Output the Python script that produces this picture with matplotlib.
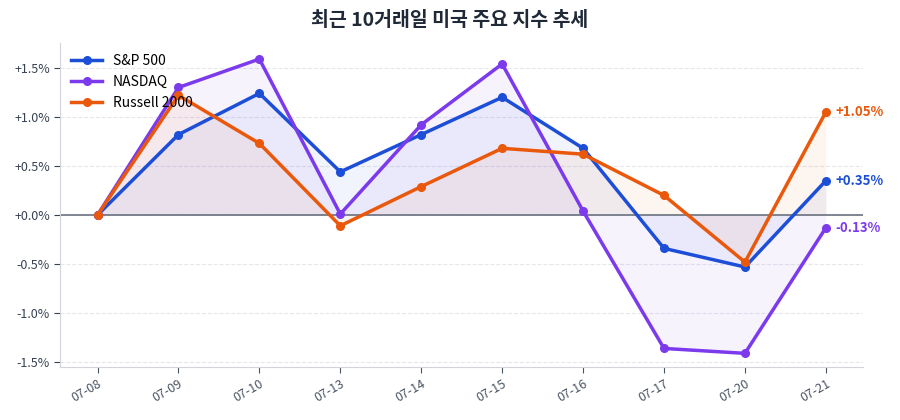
import matplotlib
matplotlib.use("Agg")
import matplotlib.pyplot as plt
from matplotlib.ticker import FuncFormatter, MultipleLocator

plt.rcParams["font.family"] = ["Noto Sans CJK KR", "DejaVu Sans"]

dates = ["07-08", "07-09", "07-10", "07-13", "07-14", "07-15", "07-16", "07-17", "07-20", "07-21"]
sp500 = [0.0, 0.82, 1.24, 0.44, 0.82, 1.20, 0.68, -0.34, -0.53, 0.35]
nasdaq = [0.0, 1.30, 1.59, 0.01, 0.92, 1.54, 0.04, -1.36, -1.41, -0.13]
russell = [0.0, 1.22, 0.73, -0.11, 0.29, 0.68, 0.62, 0.20, -0.48, 1.05]

series = [
    ("S&P 500", sp500, "#1d4ed8"),
    ("NASDAQ", nasdaq, "#7c3aed"),
    ("Russell 2000", russell, "#ea580c"),
]

fig = plt.figure(figsize=(9, 4.2), dpi=100)
ax = fig.add_axes([0.067, 0.126, 0.892, 0.772])

x = list(range(len(dates)))
for name, vals, color in series:
    ax.fill_between(x, vals, 0, color=color, alpha=0.06, linewidth=0)
    ax.plot(x, vals, color=color, linewidth=2.5, marker="o", markersize=5.5, label=name, zorder=3)
    last = vals[-1]
    ax.annotate(f"{last:+.2f}%", (x[-1], last), xytext=(7, 0), textcoords="offset points",
                va="center", ha="left", color=color, fontsize=9.5, fontweight="bold")

ax.axhline(0, color="#6b7280", linewidth=1.2, zorder=2)

ax.set_xlim(-0.46, 9.46)
ax.set_ylim(-1.55, 1.755)
ax.set_xticks(x)
ax.set_xticklabels(dates, rotation=30, ha="right", rotation_mode="anchor")
ax.yaxis.set_major_locator(MultipleLocator(0.5))
ax.yaxis.set_major_formatter(FuncFormatter(lambda v, p: f"{v:+.1f}%"))
ax.grid(axis="y", linestyle="--", color="#e5e7eb", linewidth=0.8)
ax.set_axisbelow(True)

for side in ["top", "right"]:
    ax.spines[side].set_visible(False)
for side in ["left", "bottom"]:
    ax.spines[side].set_color("#d1d5db")
ax.tick_params(colors="#4b5563", labelsize=9, length=4)
ax.tick_params(axis="y", colors="#374151")

ax.legend(loc="upper left", frameon=False, fontsize=10, handlelength=2.2, borderaxespad=0.4)

fig.suptitle("최근 10거래일 미국 주요 지수 추세", fontsize=14, fontweight="bold", color="#1f2937", y=0.975)

fig.savefig("out.png", dpi=100)
